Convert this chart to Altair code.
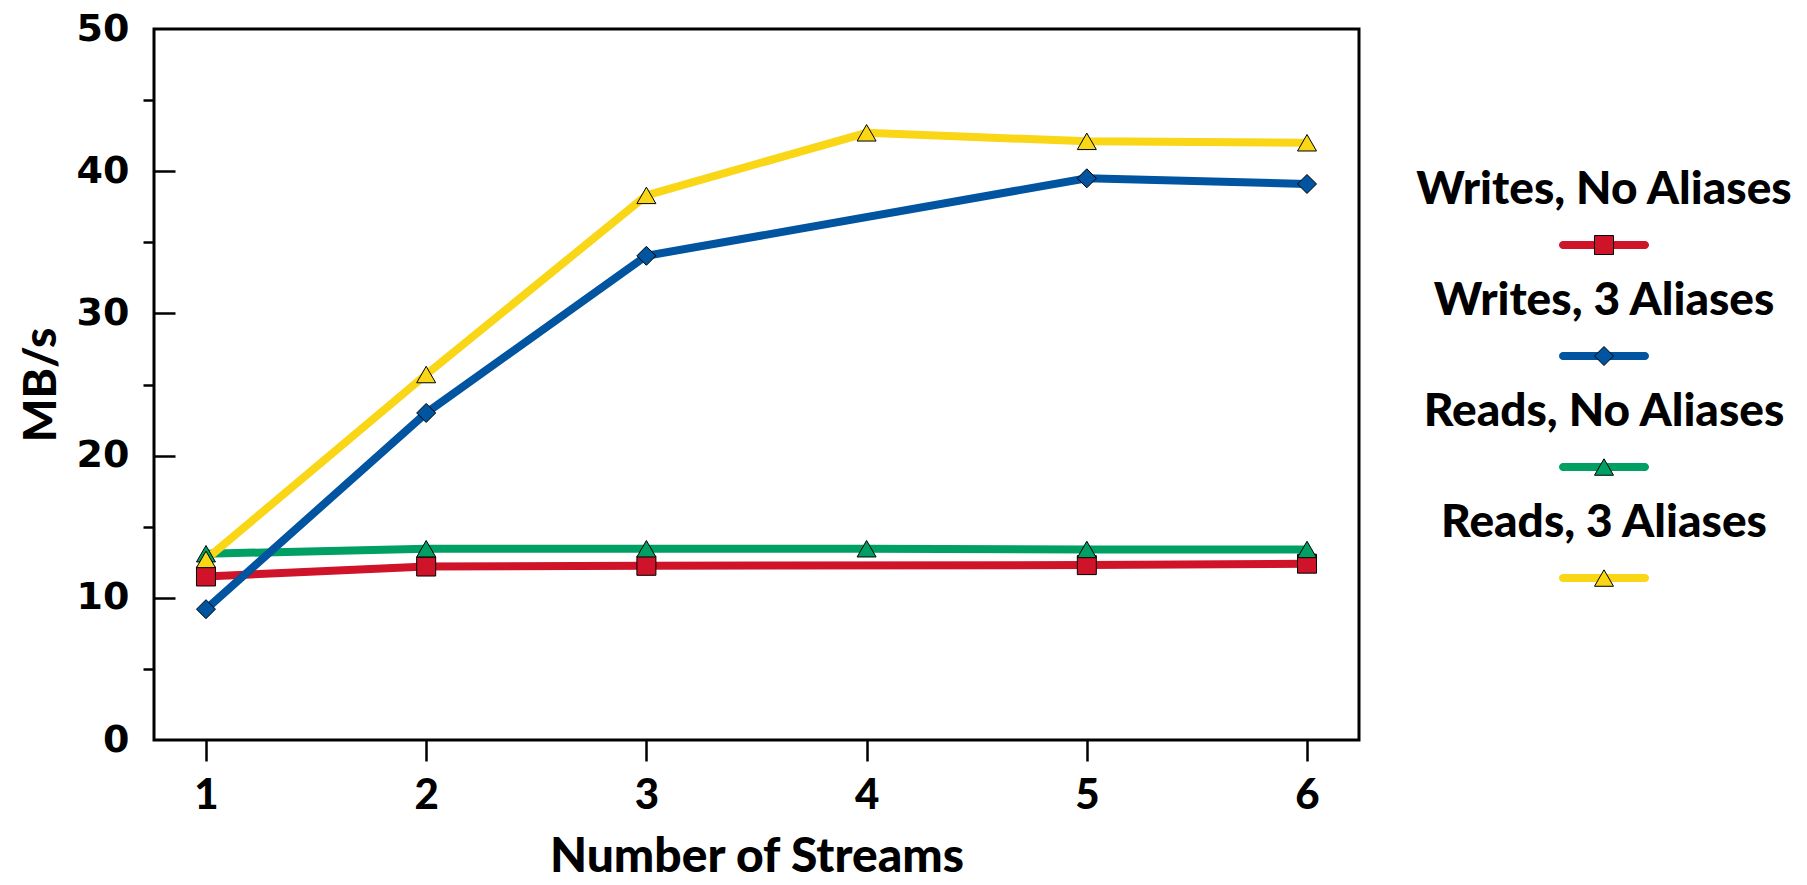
import altair as alt
import pandas as pd

# ---- data ----
streams = [1, 2, 3, 4, 5, 6]
series_names = ["Writes, No Aliases", "Writes, 3 Aliases", "Reads, No Aliases", "Reads, 3 Aliases"]
writes_no_aliases = [11.5, 12.2, 12.25, None, 12.3, 12.4]
writes_3_aliases = [9.2, 23.0, 34.05, None, 39.5, 39.1]
reads_no_aliases = [13.1, 13.45, 13.45, 13.45, 13.4, 13.4]
reads_3_aliases = [12.7, 25.7, 38.3, 42.7, 42.1, 42.0]
series_colors = ["#cf1328", "#0054a0", "#00a064", "#f9d616"]
series_shapes = ["square", "diamond", "triangle-up", "triangle-up"]
y_label_values = [0, 10, 20, 30, 40, 50]
y_minor_ticks = [5, 15, 25, 35, 45]
y_inner_ticks = [10, 20, 30, 40]

FONT = "Lato"
YFONT = "DejaVu Sans"
W, H = 1205, 711

rows = []
for name, vals in zip(series_names, [writes_no_aliases, writes_3_aliases, reads_no_aliases, reads_3_aliases]):
    for s, v in zip(streams, vals):
        if v is not None:
            rows.append({"series": name, "streams": s, "mbps": v})
df = pd.DataFrame(rows)

color = alt.Color("series:N", scale=alt.Scale(domain=series_names, range=series_colors), legend=None)
shape = alt.Shape("series:N", scale=alt.Scale(domain=series_names, range=series_shapes), legend=None)

x_enc = alt.X(
    "streams:Q",
    scale=alt.Scale(domain=[0.764, 6.236], nice=False, zero=False),
    axis=alt.Axis(
        values=streams, format="d", grid=False, domain=False,
        tickSize=21, tickWidth=2.5, tickColor="black",
        labelFont=FONT, labelFontSize=42, labelFontWeight=900, labelColor="black", labelPadding=14,
        title="Number of Streams", titleFont=FONT, titleFontSize=48, titleFontWeight=900,
        titleColor="black", titlePadding=17,
    ),
)
y_scale = alt.Scale(domain=[0, 50], nice=False, zero=False)

axis_labels = alt.Axis(
    orient="left", values=y_label_values, grid=False, domain=False, ticks=False, tickSize=0,
    labelFont=YFONT, labelFontSize=38, labelFontWeight="bold", labelColor="black", labelPadding=25,
    title="MB/s", titleFont=FONT, titleFontSize=46, titleFontWeight=900, titleColor="black", titlePadding=11,
)
axis_minor = alt.Axis(
    orient="left", values=y_minor_ticks, grid=False, domain=False, labels=False,
    tickSize=11, tickWidth=2.5, tickColor="black", title=None,
)
axis_inner = alt.Axis(
    orient="right", offset=-W, values=y_inner_ticks, grid=False, domain=False, labels=False,
    tickSize=21, tickWidth=2.5, tickColor="black", title=None,
)

draw_order = ["Writes, No Aliases", "Reads, No Aliases", "Reads, 3 Aliases", "Writes, 3 Aliases"]
base = alt.Chart(df)
layers = []
for i, name in enumerate(draw_order):
    if i == 0:
        ax = axis_labels
    elif i == 1:
        ax = axis_minor
    elif i == 2:
        ax = axis_inner
    else:
        ax = None
    layers.append(
        base.transform_filter(alt.datum.series == name)
        .mark_line(strokeWidth=8)
        .encode(x=x_enc, y=alt.Y("mbps:Q", scale=y_scale, axis=ax), color=color)
    )
for name in draw_order:
    layers.append(
        base.transform_filter(alt.datum.series == name)
        .mark_point(filled=True, size=361, stroke="black", strokeWidth=1, opacity=1)
        .encode(x=x_enc, y=alt.Y("mbps:Q", scale=y_scale, axis=None), color=color, shape=shape)
    )

main = alt.layer(*layers).resolve_axis(y="independent").properties(
    width=W, height=H, view=alt.ViewBackground(stroke="black", strokeWidth=3)
)

# ---- custom legend (label centred above a line+marker sample) ----
legend_df = pd.DataFrame({"series": series_names, "idx": list(range(len(series_names)))})
leg_y = alt.Y("idx:Q", scale=alt.Scale(domain=[-1.946, 4.459], reverse=True, nice=False, zero=False), axis=None)
leg_base = alt.Chart(legend_df).encode(y=leg_y)
leg_text = leg_base.mark_text(
    font=FONT, fontSize=46, fontWeight=900, color="black", align="center", baseline="alphabetic", dy=-41
).encode(text="series:N")
leg_line = leg_base.mark_tick(orient="horizontal", size=90, thickness=8, cornerRadius=4, opacity=1).encode(color=color)
leg_pt = leg_base.mark_point(filled=True, size=361, stroke="black", strokeWidth=1, opacity=1).encode(
    color=color, shape=shape
)
legend = alt.layer(leg_line, leg_pt, leg_text).properties(width=390, height=H)

chart = (
    alt.hconcat(main, legend, spacing=50, bounds="flush")
    .configure_view(stroke="transparent")
    .properties(padding={"left": 16, "top": 8, "right": 5, "bottom": 0}, background="white")
)

chart.save("out.html", embed_options={"renderer": "svg", "actions": False})
